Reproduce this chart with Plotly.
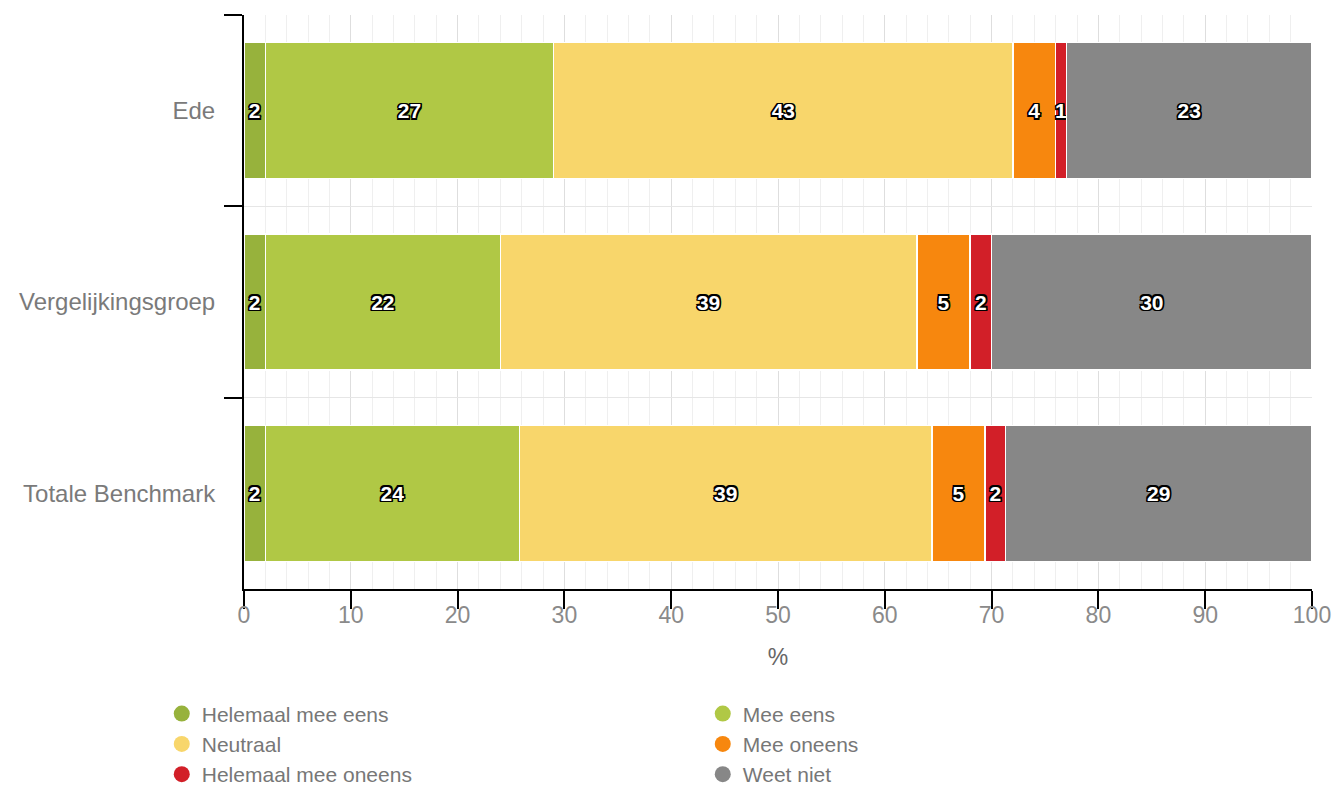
import plotly.graph_objects as go

categories = ["Ede", "Vergelijkingsgroep", "Totale Benchmark"]
series_names = ["Helemaal mee eens", "Mee eens", "Neutraal", "Mee oneens",
                "Helemaal mee oneens", "Weet niet"]
helemaal_mee_eens = [2.0, 2.0, 2.0]
mee_eens = [27.0, 22.0, 23.8]
neutraal = [43.0, 39.0, 38.6]
mee_oneens = [4.0, 5.0, 5.0]
helemaal_mee_oneens = [1.0, 2.0, 1.9]
weet_niet = [23.0, 30.0, 28.7]
series_values = [helemaal_mee_eens, mee_eens, neutraal, mee_oneens,
                 helemaal_mee_oneens, weet_niet]
colors = ["#97b23c", "#b0c845", "#f8d66b", "#f7870e", "#d21f28", "#878787"]
x_ticks = [0, 10, 20, 30, 40, 50, 60, 70, 80, 90, 100]

FONT = "Liberation Sans, Arial, sans-serif"
outline = ("-1.5px -1.5px 0 #000, 1.5px -1.5px 0 #000, -1.5px 1.5px 0 #000, 1.5px 1.5px 0 #000, "
           "0 1.5px 0 #000, 0 -1.5px 0 #000, 1.5px 0 0 #000, -1.5px 0 0 #000")

fig = go.Figure()
for name, vals, col in zip(series_names, series_values, colors):
    fig.add_trace(go.Bar(
        y=categories, x=vals, name=name, orientation="h",
        marker=dict(color=col, line=dict(color="white", width=1.5)),
        texttemplate="%{x:.0f}", textposition="inside", insidetextanchor="middle",
        textangle=0, constraintext="none",
        textfont=dict(family=FONT, size=21, color="white", weight="bold", shadow=outline),
        showlegend=False, hoverinfo="x+name",
    ))
for name, col in zip(series_names, colors):
    fig.add_trace(go.Scatter(
        x=[None], y=[None], mode="markers", name=name,
        marker=dict(color=col, size=22, symbol="circle"),
        showlegend=True,
    ))

fig.update_layout(
    barmode="stack",
    bargap=0.29,
    width=1336, height=787,
    margin=dict(l=244, r=24, t=15, b=198, autoexpand=False),
    plot_bgcolor="white", paper_bgcolor="white",
    font=dict(family=FONT, color="#777777"),
    xaxis=dict(
        range=[0, 100], tickvals=x_ticks, showline=True, linecolor="black", linewidth=2,
        ticks="outside", ticklen=18, tickwidth=2, tickcolor="black",
        tickfont=dict(size=23, color="#8a8a8a"), ticklabelstandoff=-14,
        showgrid=True, gridcolor="#dedede", gridwidth=1,
        minor=dict(dtick=2, showgrid=True, gridcolor="#efefef", ticks=""),
        zeroline=False, automargin=False,
        title=dict(text="%", font=dict(size=23, color="#666666"), standoff=22),
    ),
    yaxis=dict(
        type="category", categoryorder="array", categoryarray=categories,
        autorange="reversed", tickson="boundaries",
        showline=True, linecolor="black", linewidth=2,
        ticks="outside", ticklen=18, tickwidth=2, tickcolor="black",
        tickfont=dict(size=24, color="#7a7a7a"), ticklabelstandoff=22,
        showgrid=True, gridcolor="#e6e6e6", zeroline=False, automargin=False,
    ),
    legend=dict(
        orientation="h", xref="paper", yref="paper",
        x=-0.077, y=-0.182, xanchor="left", yanchor="top",
        entrywidth=496, entrywidthmode="pixels", traceorder="normal",
        font=dict(size=21, color="#777777"),
        itemsizing="trace", tracegroupgap=0,
    ),
)

fig.write_html("out.html", config={"displayModeBar": False},
               post_script="document.body.style.margin='0';document.body.style.overflow='hidden';")
